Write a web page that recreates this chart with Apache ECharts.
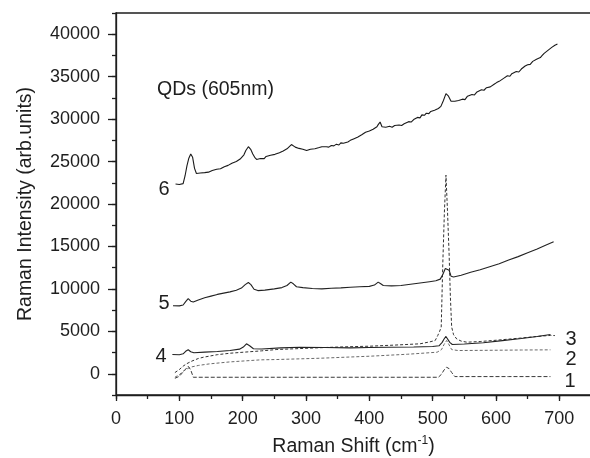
<!DOCTYPE html>
<html><head><meta charset="utf-8">
<script src="https://cdn.jsdelivr.net/npm/echarts@6/dist/echarts.min.js"></script>
<style>html,body{margin:0;padding:0;background:#fff}#c{width:590px;height:458px}</style>
</head><body><div id="c"></div>
<script>
// tick values
const xTickValues = [0, 100, 200, 300, 400, 500, 600, 700];
const yTickValues = [0, 5000, 10000, 15000, 20000, 25000, 30000, 35000, 40000];

// spectra: [Raman shift (cm-1), intensity]
const spectrum1 = [[93,-530],[100,-300],[107,300],[114,890],[118,450],[122,-410],[130,-410],[200,-410],[300,-410],[400,-410],[509,-410],[514,-50],[518,450],[522,770],[526,600],[530,150],[535,-330],[560,-330],[620,-330],[686,-330]];
const spectrum2 = [[93,-410],[100,-100],[107,350],[117,770],[130,980],[148,1170],[180,1400],[228,1640],[254,1680],[322,1830],[401,2070],[460,2300],[507,2540],[514,2850],[518,3450],[522,3920],[526,3400],[530,2850],[540,2740],[580,2760],[640,2800],[686,2820]];
const spectrum3 = [[93,140],[100,500],[106,900],[112,1200],[120,1500],[130,1800],[138,1950],[160,2250],[180,2420],[201,2540],[230,2700],[254,2860],[300,3000],[350,3150],[401,3250],[440,3380],[480,3530],[495,3750],[504,3920],[508,4500],[511,5000],[513.5,5500],[516,13000],[518.5,19000],[521,23400],[523.5,19000],[526,14000],[528,9000],[530,5500],[533,4600],[538,4100],[545,3850],[554,3720],[575,3800],[600,3950],[638,4200],[665,4400],[686,4520],[693,4500]];
const spectrum4 = [[89,2270],[100,2250],[106,2350],[110,2650],[114,2830],[118,2600],[123,2470],[140,2550],[160,2620],[180,2750],[195,2900],[201,3150],[206,3530],[211,3300],[217,2950],[230,2920],[260,3050],[290,3130],[330,3100],[370,3050],[400,3100],[430,3130],[470,3150],[500,3210],[510,3300],[515,3700],[518,4100],[521,4400],[524,4200],[527,3700],[531,3450],[550,3500],[580,3650],[610,3900],[640,4150],[665,4400],[686,4630]];
const spectrum5 = [[90,8020],[100,8000],[106,8100],[110,8500],[114,8850],[118,8550],[122,8450],[130,8700],[140,8950],[150,9150],[160,9350],[170,9500],[180,9650],[190,9850],[198,10100],[204,10500],[209,10750],[213,10500],[218,9950],[224,9800],[235,9850],[250,10000],[262,10150],[270,10400],[276,10800],[280,10600],[285,10250],[295,10150],[310,10050],[325,10000],[340,10080],[355,10120],[370,10200],[385,10250],[400,10300],[408,10450],[414,10800],[418,10600],[422,10400],[435,10350],[450,10400],[465,10550],[480,10700],[495,10850],[505,10950],[512,11150],[516,11700],[520,12400],[523,12550],[526,12200],[529,11500],[533,11400],[545,11600],[560,11950],[575,12250],[590,12600],[605,12950],[620,13400],[635,13800],[650,14250],[665,14700],[680,15200],[691,15550]];
const spectrum6 = [[94,22350],[100,22300],[106,22400],[109,23300],[112,24500],[115,25400],[118,25900],[121,25500],[124,24200],[127,23600],[130,23500],[133,23650],[136,23550],[140,23700],[143,23600],[146,23750],[149,23650],[152,23950],[155,23850],[159,24100],[162,23950],[165,24150],[168,24050],[171,24400],[174,24300],[177,24550],[180,24450],[183,24800],[186,24700],[190,25000],[193,24900],[196,25300],[199,25450],[202,25800],[205,26300],[209,26750],[213,26400],[216,25900],[219,25500],[222,25250],[225,25450],[228,25350],[231,25500],[234,25350],[237,25600],[240,25500],[244,25750],[247,25650],[251,25850],[254,25800],[258,26050],[261,25950],[264,26250],[267,26350],[270,26500],[273,26650],[277,27000],[280,26900],[283,26700],[286,26750],[289,26550],[292,26650],[295,26450],[298,26550],[301,26300],[304,26250],[307,26450],[310,26350],[314,26500],[317,26450],[321,26650],[325,26750],[328,26600],[332,26750],[336,26700],[340,26900],[344,26850],[348,27050],[352,26950],[355,27200],[359,27150],[362,27350],[366,27300],[370,27500],[373,27450],[376,27700],[379,27650],[382,27900],[385,27850],[388,28150],[391,28050],[394,28450],[397,28400],[400,28600],[403,28550],[406,28800],[409,28750],[412,29100],[414,29350],[417,29650],[420,29100],[423,28950],[426,29050],[429,28950],[432,29150],[436,29050],[440,29250],[443,29150],[447,29300],[451,29250],[455,29450],[458,29400],[462,29700],[466,29650],[470,29950],[473,29900],[476,30200],[480,30150],[483,30500],[487,30450],[490,30700],[494,30650],[497,30900],[500,30850],[503,31050],[506,30950],[509,31250],[513,31500],[517,32200],[521,33000],[525,32700],[529,32100],[532,31950],[535,32100],[538,31950],[541,32200],[544,32100],[547,32350],[551,32300],[555,32700],[558,32600],[562,32900],[566,32850],[570,33200],[573,33100],[577,33450],[581,33400],[585,33700],[588,33650],[591,33800],[594,33750],[597,34100],[601,34300],[605,34450],[608,34650],[612,34800],[615,34750],[618,35100],[622,35050],[625,35350],[628,35300],[632,35600],[636,35550],[640,35900],[643,36000],[646,36250],[650,36400],[654,36450],[658,36800],[661,36750],[664,37050],[667,36950],[670,37250],[673,37500],[676,37750],[679,37650],[682,38100],[685,38050],[688,38450],[691,38400],[693,38700],[697,38850]];

const curveNames = ['1','2','3','4','5','6'];
const FONT = 'Liberation Sans';
const INK = '#1e1e1e';

const chart = echarts.init(document.getElementById('c'), null, {renderer:'canvas'});

function lineSeries(name, data, color, type, width) {
  return {
    name, type: 'line', data, showSymbol: false, symbol: 'none',
    xAxisIndex: 0, yAxisIndex: 0, animation: false,
    lineStyle: {color, width, type}
  };
}
const plain = v => String(v);

const option = {
  backgroundColor: '#fff',
  animation: false,
  grid: {left: 116, right: -1, top: 13, bottom: 63, show: true, borderColor: INK, borderWidth: 1.3, outerBoundsMode: 'none', containLabel: false},
  xAxis: [
    {type: 'value', min: 0, max: 750, interval: 50, position: 'bottom',
     axisLine: {show: true, onZero: false, lineStyle: {color: INK, width: 1.3}},
     axisTick: {show: true, length: 6, customValues: xTickValues, lineStyle: {color: INK, width: 1.3}},
     axisLabel: {customValues: xTickValues, formatter: plain, margin: 15, fontSize: 18, fontFamily: FONT, color: INK},
     splitLine: {show: false},
     name: '{a|Raman Shift (cm}{s|-1}{a|)}', nameLocation: 'middle', nameGap: 40,
     nameTextStyle: {rich: {a: {fontSize: 19.5, fontFamily: FONT, color: INK, lineHeight: 24},
                            s: {fontSize: 12, fontFamily: FONT, color: INK, lineHeight: 12, verticalAlign: 'top'}}}},
    {type: 'value', min: 0, max: 750, interval: 50, position: 'bottom',
     axisLine: {show: false, onZero: false},
     axisTick: {show: true, length: 4, lineStyle: {color: INK, width: 1.3}},
     axisLabel: {show: false}, splitLine: {show: false}}
  ],
  yAxis: [
    {type: 'value', min: -2500, max: 42500, interval: 2500, position: 'left',
     axisLine: {show: true, onZero: false, lineStyle: {color: INK, width: 1.3}},
     axisTick: {show: true, length: 8, customValues: yTickValues, lineStyle: {color: INK, width: 1.3}},
     axisLabel: {customValues: yTickValues, formatter: plain, margin: 16, fontSize: 18, fontFamily: FONT, color: INK},
     splitLine: {show: false},
     name: 'Raman Intensity (arb.units)', nameLocation: 'middle', nameGap: 80,
     nameTextStyle: {fontSize: 19.5, fontFamily: FONT, color: INK}},
    {type: 'value', min: -2500, max: 42500, interval: 2500, position: 'left',
     axisLine: {show: false, onZero: false},
     axisTick: {show: true, length: 4, lineStyle: {color: INK, width: 1.3}},
     axisLabel: {show: false}, splitLine: {show: false}}
  ],
  series: [
    lineSeries(curveNames[0], spectrum1, '#3a3a3a', [4, 2], 1),
    lineSeries(curveNames[1], spectrum2, '#6a6a6a', [3, 2], 1),
    lineSeries(curveNames[2], spectrum3, '#333333', [3, 2], 1),
    lineSeries(curveNames[3], spectrum4, '#222222', 'solid', 1.1),
    lineSeries(curveNames[4], spectrum5, '#222222', 'solid', 1.1),
    lineSeries(curveNames[5], spectrum6, '#1a1a1a', 'solid', 1.1)
  ],
  graphic: [
    {type: 'text', left: 157, top: 80, style: {text: 'QDs (605nm)', fontSize: 19.5, fontFamily: FONT, fill: INK}},
    {type: 'text', x: 164, y: 189, style: {text: curveNames[5], fontSize: 20, fontFamily: FONT, fill: INK, align: 'center', verticalAlign: 'middle'}},
    {type: 'text', x: 164, y: 303, style: {text: curveNames[4], fontSize: 20, fontFamily: FONT, fill: INK, align: 'center', verticalAlign: 'middle'}},
    {type: 'text', x: 161, y: 356, style: {text: curveNames[3], fontSize: 20, fontFamily: FONT, fill: INK, align: 'center', verticalAlign: 'middle'}},
    {type: 'text', x: 571, y: 339, style: {text: curveNames[2], fontSize: 20, fontFamily: FONT, fill: INK, align: 'center', verticalAlign: 'middle'}},
    {type: 'text', x: 571, y: 359, style: {text: curveNames[1], fontSize: 20, fontFamily: FONT, fill: INK, align: 'center', verticalAlign: 'middle'}},
    {type: 'text', x: 570, y: 381, style: {text: curveNames[0], fontSize: 20, fontFamily: FONT, fill: INK, align: 'center', verticalAlign: 'middle'}}
  ]
};
chart.setOption(option);
</script>
</body></html>
